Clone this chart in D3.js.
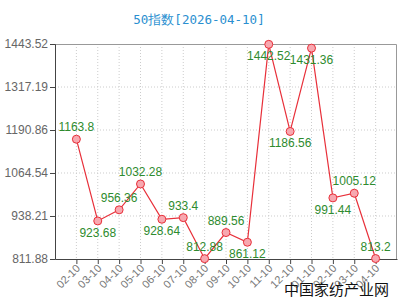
<!DOCTYPE html>
<html>
<head>
<meta charset="utf-8">
<script src="https://cdn.jsdelivr.net/npm/d3@7"></script>
<style>
  html, body { margin: 0; padding: 0; background: #fff; }
  svg { display: block; }
</style>
</head>
<body>
<div id="chart"></div>
<script>
// Chart data
const months = ['02-10', '03-10', '04-10', '05-10', '06-10', '07-10', '08-10', '09-10',
                '10-10', '11-10', '12-10', '01-10', '02-10', '03-10', '04-10'];
const values = [1163.8, 923.68, 956.36, 1032.28, 928.64, 933.4, 812.88, 889.56,
                861.12, 1442.52, 1186.56, 1431.36, 991.44, 1005.12, 813.2];
const yTicks = [811.88, 938.21, 1064.54, 1190.86, 1317.19, 1443.52];
const title = '50指数[2026-04-10]';
const watermark = '中国家纺产业网';

const width = 400;
const height = 300;
const margin = { top: 44, right: 3, bottom: 41, left: 55 };
const innerWidth = width - margin.left - margin.right;
const innerHeight = height - margin.top - margin.bottom;

const svg = d3.select('#chart').append('svg')
    .attr('width', width)
    .attr('height', height);

// Title
svg.append('text')
    .attr('x', 199)
    .attr('y', 24)
    .attr('text-anchor', 'middle')
    .style('font-family', '"DejaVu Sans Mono", monospace')
    .style('font-size', '12.5px')
    .style('fill', '#2a8fd0')
    .text(title);

const g = svg.append('g')
    .attr('transform', `translate(${margin.left},${margin.top})`);

const x = d3.scalePoint()
    .domain(d3.range(values.length))
    .range([0, innerWidth])
    .padding(1);

const y = d3.scaleLinear()
    .domain([yTicks[0], yTicks[yTicks.length - 1]])
    .range([innerHeight, 0]);

// Grid lines
g.selectAll('.hgrid')
    .data(yTicks.slice(1, -1))
    .enter().append('line')
    .attr('x1', 0).attr('x2', innerWidth)
    .attr('y1', d => y(d)).attr('y2', d => y(d))
    .attr('stroke', '#ccc')
    .attr('stroke-dasharray', '1,2');

g.selectAll('.vgrid')
    .data(d3.range(values.length))
    .enter().append('line')
    .attr('x1', d => x(d)).attr('x2', d => x(d))
    .attr('y1', 0).attr('y2', innerHeight)
    .attr('stroke', '#ccc')
    .attr('stroke-dasharray', '1,2');

// Top and right border
g.append('path')
    .attr('d', `M0,0.5H${innerWidth - 0.5}V${innerHeight}`)
    .attr('fill', 'none')
    .attr('stroke', '#999');

// Y axis
const yAxis = g.append('g')
    .call(d3.axisLeft(y).tickValues(yTicks).tickSize(5).tickFormat(d => d.toFixed(2)));
yAxis.select('.domain').attr('stroke', '#444');
yAxis.selectAll('.tick line').attr('stroke', '#444');
yAxis.selectAll('text')
    .style('font-family', '"Liberation Sans", Arial, sans-serif')
    .style('font-size', '12px')
    .style('fill', '#666')
    .attr('x', -7);

// X axis
const xAxis = g.append('g')
    .attr('transform', `translate(0,${innerHeight})`)
    .call(d3.axisBottom(x).tickSize(5).tickSizeOuter(0).tickFormat(i => months[i]));
xAxis.select('.domain').attr('stroke', '#444');
xAxis.selectAll('.tick line').attr('stroke', '#444');
xAxis.selectAll('text')
    .style('font-family', '"Liberation Sans", Arial, sans-serif')
    .style('font-size', '11px')
    .style('fill', '#777')
    .attr('text-anchor', 'end')
    .attr('dy', null)
    .attr('y', 0)
    .attr('transform', 'translate(4,10) rotate(-45)');

// Line
const line = d3.line()
    .x((d, i) => x(i))
    .y(d => y(d));

g.append('path')
    .datum(values)
    .attr('fill', 'none')
    .attr('stroke', '#e8303a')
    .attr('stroke-width', 1.2)
    .attr('d', line);

// Markers
g.selectAll('.dot')
    .data(values)
    .enter().append('circle')
    .attr('cx', (d, i) => x(i))
    .attr('cy', d => y(d))
    .attr('r', 4)
    .attr('fill', '#f7a8b0')
    .attr('stroke', '#e8303a')
    .attr('stroke-width', 1);

// Value labels: below local minima, above otherwise; flipped at the plot edges
function labelBelow(d, i) {
    const prev = i > 0 ? values[i - 1] : Infinity;
    const next = i < values.length - 1 ? values[i + 1] : Infinity;
    let below = d < prev && d < next;
    if (!below && y(d) < 20) below = true;
    if (below && innerHeight - y(d) < 8) below = false;
    return below;
}

g.selectAll('.val')
    .data(values)
    .enter().append('text')
    .attr('x', (d, i) => x(i))
    .attr('y', (d, i) => y(d) + (labelBelow(d, i) ? 16 : -8))
    .attr('text-anchor', 'middle')
    .style('font-family', '"Liberation Sans", Arial, sans-serif')
    .style('font-size', '12px')
    .style('fill', '#2e8b2e')
    .text(d => d);

// Watermark
svg.append('text')
    .attr('x', 389)
    .attr('y', 295)
    .attr('text-anchor', 'end')
    .style('font-family', '"Noto Sans CJK SC", sans-serif')
    .style('font-size', '15px')
    .style('fill', '#111')
    .text(watermark);
</script>
</body>
</html>
